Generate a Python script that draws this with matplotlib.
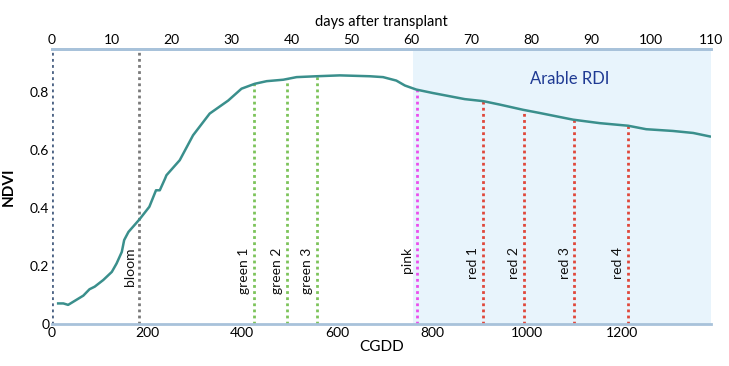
import matplotlib
matplotlib.use("Agg")
import matplotlib.pyplot as plt
import numpy as np

plt.rcParams["font.family"] = ["Lato", "DejaVu Sans"]

# NDVI curve vs cumulative growing degree days
cgdd = [13, 24, 34, 66, 79, 90, 108, 126, 136, 147, 152, 161, 184, 205, 219, 227,
        238, 241, 269, 297, 332, 371, 399, 427, 452, 487, 515, 557, 606, 669, 697,
        725, 743, 767, 802, 869, 908, 943, 992, 1027, 1097, 1153, 1213, 1251, 1307,
        1350, 1385]
ndvi = [0.071, 0.071, 0.066, 0.098, 0.120, 0.129, 0.152, 0.180, 0.209, 0.249, 0.290,
        0.318, 0.361, 0.405, 0.462, 0.462, 0.502, 0.514, 0.566, 0.652, 0.727, 0.772,
        0.813, 0.830, 0.839, 0.844, 0.853, 0.856, 0.859, 0.856, 0.853, 0.841, 0.824,
        0.810, 0.798, 0.777, 0.770, 0.758, 0.740, 0.729, 0.706, 0.694, 0.685, 0.673,
        0.667, 0.660, 0.648]

# growth stage markers
stage_names = ["bloom", "green 1", "green 2", "green 3", "pink",
               "red 1", "red 2", "red 3", "red 4"]
stage_cgdd = [184, 425, 494, 557, 768, 908, 994, 1100, 1212]
stage_colors = ["#7a7a7a", "#7cc35a", "#7cc35a", "#7cc35a", "#ec4ded",
                "#e0473a", "#e0473a", "#e0473a", "#e0473a"]

rdi_start = 760
x_max = 1387
days_max = 110

fig = plt.figure(figsize=(7.29, 3.66), dpi=100)
ax = fig.add_axes([0.0713, 0.1148, 0.9037, 0.7512])

ax.axvspan(rdi_start, x_max, color="#e8f4fc", lw=0, zorder=0)
ax.text(1090, 0.848, "Arable RDI", color="#1f3a93", fontsize=12,
        ha="center", va="center")

ax.plot(cgdd, ndvi, color="#3a8f8c", lw=1.8, zorder=3)

# transplant line at 0 and bloom go to the top
ax.plot([0, 0], [0, 0.95], ls=(0, (1, 1.2)), color="#4d6485", lw=2, zorder=2)
for name, xc, col in zip(stage_names, stage_cgdd, stage_colors):
    top = 0.95 if name == "bloom" else np.interp(xc, cgdd, ndvi)
    ax.plot([xc, xc], [0, top], ls=(0, (1, 1.2)), color=col, lw=2, zorder=2)
    ax.text(xc - 8, 0.265, name, rotation=90, ha="right", va="top",
            fontsize=10, color="#111111")

ax.set_xlim(0, x_max)
ax.set_ylim(0, 0.95)
ax.set_xticks([0, 200, 400, 600, 800, 1000, 1200])
ax.set_yticks([0, 0.2, 0.4, 0.6, 0.8])
ax.set_yticklabels(["0", "0.2", "0.4", "0.6", "0.8"])
ax.tick_params(length=0, labelsize=10, pad=2)
ax.set_xlabel("CGDD", fontsize=11, labelpad=1)
ax.set_ylabel("NDVI", fontsize=11, fontweight="bold", labelpad=10)

for s in ["left", "right"]:
    ax.spines[s].set_visible(False)
for s in ["top", "bottom"]:
    ax.spines[s].set_color("#a8c2da")
    ax.spines[s].set_linewidth(2)

ax2 = ax.twiny()
ax2.set_xlim(0, days_max)
ax2.set_xticks(range(0, 111, 10))
ax2.tick_params(length=0, labelsize=10, pad=2)
ax2.set_xlabel("days after transplant", fontsize=10.5, labelpad=6)
for s in ["left", "right", "bottom"]:
    ax2.spines[s].set_visible(False)
ax2.spines["top"].set_color("#a8c2da")
ax2.spines["top"].set_linewidth(2)

fig.savefig("out.png", dpi=100)
